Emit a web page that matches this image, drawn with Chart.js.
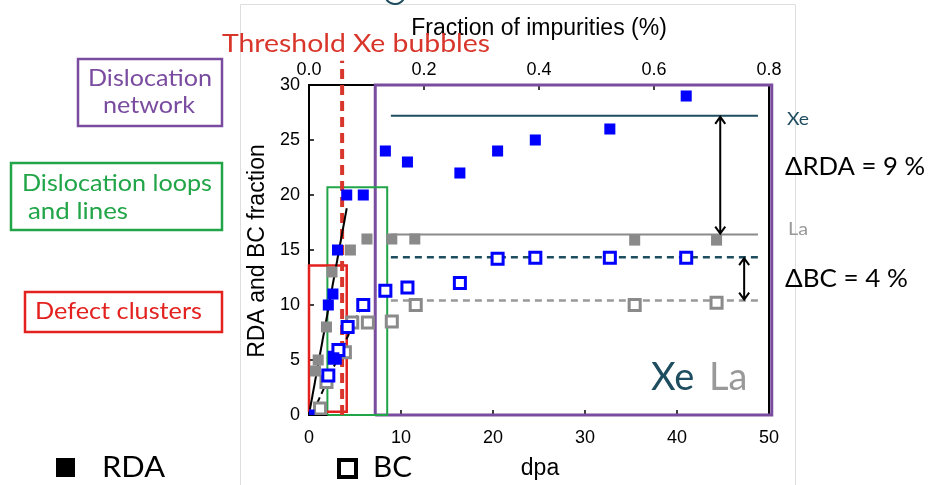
<!DOCTYPE html>
<html>
<head>
<meta charset="utf-8">
<script src="https://cdn.jsdelivr.net/npm/chart.js@4.4.0/dist/chart.umd.min.js"></script>
<style>
  html, body { margin: 0; padding: 0; background: #fff; }
  canvas { display: block; }
</style>
</head>
<body>
<canvas id="chart" width="928" height="485"></canvas>
<script>
// Xe implanted: RDA (filled) and BC (open) vs dpa
const xeRdaDpa = [0, 2.1, 2.6, 2.7, 3.1, 4.1, 5.9, 8.3, 10.7, 16.4, 20.5, 24.6, 32.7, 41];
const xeRda    = [0, 10, 11, 5.2, 15, 20, 20, 24, 23, 22, 24, 25, 26, 29];
const xeBcDpa  = [2.1, 2.8, 3.2, 4.2, 5.9, 8.3, 10.7, 16.4, 20.5, 24.6, 32.7, 41];
const xeBc     = [3.6, 5.2, 5.9, 8, 10, 11.3, 11.6, 12, 14.2, 14.3, 14.3, 14.3];
// La implanted
const laRdaDpa = [0.7, 1.0, 1.9, 2.5, 4.5, 6.3, 9, 11.5, 35.4, 44.3];
const laRda    = [4, 5, 8, 13, 15, 16, 16, 16, 15.9, 15.9];
const laBcDpa  = [1.2, 1.9, 3.9, 4.7, 6.4, 9, 11.6, 35.4, 44.3];
const laBc     = [0.6, 3, 5.7, 8.4, 8.4, 8.5, 10, 10, 10.2];

// saturation levels: [xStart, xEnd, level]
const xeRdaLevel = [8.9, 48.8, 27.2];
const laRdaLevel = [8.9, 48.8, 16.4];
const xeBcLevel  = [8.9, 48.8, 14.35];
const laBcLevel  = [8.9, 48.8, 10.4];

// guide lines through the first points
const rdaFit = [[0.1, 0.5], [4.1, 18.8]];
const bcFit  = [[0.9, 1.1], [5.5, 9.5]];

// threshold for Xe bubbles (dpa) and how far up it runs
const thresholdDpa = 3.6;
const thresholdTop = 32.2;

// regimes: [xmin, xmax, ymin, ymax]
const defectBox  = [0, 4.1, 0.3, 13.6];
const loopsBox   = [2, 8.5, 0, 20.7];
const networkBox = [7.2, 50.3, 0, 30];

// difference arrows: [dpa, yFrom, yTo]
const rdaArrow = [44.7, 27.2, 16.4];
const bcArrow  = [47.3, 14.35, 10.4];

const dpaTicks = [0, 10, 20, 30, 40, 50];
const fracTicks = [0, 0.2, 0.4, 0.6, 0.8];

const BLUE = '#0000ff';
const GRAY = '#8a8a8a';
const TEAL = '#1d4d5e';
const PURPLE = '#7a4c9f';
const GREEN = '#21a548';
const RED = '#e3211e';
const THRESH = '#d9362b';
const AX_FONT = 'Liberation Sans, Arial, sans-serif';
const ANN_FONT = 'Lato, sans-serif';

const pts = (xs, ys) => xs.map((x, i) => ({ x: x, y: ys[i] }));
const level = l => [{ x: l[0], y: l[2] }, { x: l[1], y: l[2] }];
const rect = b => [
  { x: b[0], y: b[2] }, { x: b[1], y: b[2] }, { x: b[1], y: b[3] },
  { x: b[0], y: b[3] }, { x: b[0], y: b[2] }
];

function lineSet(data, color, width, dash, order) {
  return {
    data: data,
    showLine: true,
    borderColor: color,
    borderWidth: width,
    borderDash: dash || [],
    pointRadius: 0,
    pointHoverRadius: 0,
    fill: false,
    tension: 0,
    clip: false,
    order: order
  };
}

function pointSet(data, fill, stroke, bw, order) {
  return {
    data: data,
    pointStyle: 'rect',
    pointRadius: 7.8,
    pointHoverRadius: 7.8,
    backgroundColor: fill,
    borderColor: stroke,
    borderWidth: bw,
    order: order
  };
}

const datasets = [
  pointSet(pts(xeRdaDpa, xeRda), BLUE, BLUE, 0, 0),
  pointSet(pts(xeBcDpa, xeBc), '#ffffff', BLUE, 3, 1),
  pointSet(pts(laRdaDpa, laRda), GRAY, GRAY, 0, 2),
  pointSet(pts(laBcDpa, laBc), '#ffffff', GRAY, 3, 3),
  lineSet(rdaFit.map(p => ({ x: p[0], y: p[1] })), '#000', 2, [], 4),
  lineSet(bcFit.map(p => ({ x: p[0], y: p[1] })), '#000', 2, [6, 4], 4),
  lineSet([{ x: thresholdDpa, y: 0 }, { x: thresholdDpa, y: thresholdTop }], THRESH, 4, [10, 6], 5),
  lineSet(rect(defectBox), RED, 2.5, [], 6),
  lineSet(rect(loopsBox), GREEN, 2, [], 6),
  lineSet(rect(networkBox), PURPLE, 3, [], 6),
  lineSet(level(xeRdaLevel), TEAL, 2, [], 7),
  lineSet(level(laRdaLevel), GRAY, 2, [], 7),
  lineSet(level(xeBcLevel), TEAL, 2.5, [7, 5], 7),
  lineSet(level(laBcLevel), '#999999', 2.5, [7, 5], 7)
];

function text(ctx, str, x, y, font, color, align) {
  ctx.font = font;
  ctx.fillStyle = color;
  ctx.textAlign = align || 'left';
  ctx.textBaseline = 'middle';
  ctx.fillText(str, x, y);
}

// draw text stretched to span x0..x1 (the slide font is wider than anything installed)
function spanText(ctx, str, x0, x1, y, size, color) {
  ctx.font = size + 'px ' + ANN_FONT;
  const w = ctx.measureText(str).width;
  ctx.save();
  ctx.translate(x0, y);
  ctx.scale((x1 - x0) / w, 1);
  ctx.fillStyle = color;
  ctx.textAlign = 'left';
  ctx.textBaseline = 'middle';
  ctx.fillText(str, 0, 0);
  ctx.restore();
}

const frame = {
  id: 'frame',
  beforeDatasetsDraw(chart) {
    const ctx = chart.ctx, a = chart.chartArea;
    const sx = chart.scales.x, sy = chart.scales.y, st = chart.scales.x2;
    ctx.save();
    // pasted-image border
    ctx.strokeStyle = '#dedede';
    ctx.lineWidth = 1;
    ctx.beginPath();
    ctx.moveTo(240.5, 485); ctx.lineTo(240.5, 4.5); ctx.lineTo(795.5, 4.5); ctx.lineTo(795.5, 485);
    ctx.stroke();
    ctx.strokeStyle = TEAL;
    ctx.lineWidth = 2;
    ctx.beginPath();
    ctx.arc(395, -6, 10, 0.2, Math.PI - 0.2);
    ctx.stroke();
    // plot frame
    ctx.strokeStyle = '#000';
    ctx.lineWidth = 2;
    ctx.strokeRect(a.left, a.top, a.right - a.left, a.bottom - a.top);
    // inner ticks
    ctx.lineWidth = 1.5;
    ctx.beginPath();
    dpaTicks.slice(1, -1).forEach(v => {
      const px = sx.getPixelForValue(v);
      ctx.moveTo(px, a.bottom); ctx.lineTo(px, a.bottom - 5);
    });
    fracTicks.slice(1, -1).forEach(v => {
      const px = st.getPixelForValue(v);
      ctx.moveTo(px, a.top); ctx.lineTo(px, a.top + 5);
    });
    sy.ticks.forEach(t => {
      if (t.value <= 0 || t.value >= 30) return;
      const py = sy.getPixelForValue(t.value);
      ctx.moveTo(a.left, py); ctx.lineTo(a.left + 5, py);
    });
    ctx.stroke();
    ctx.restore();
  },
  afterDatasetsDraw(chart) {
    const ctx = chart.ctx;
    const sx = chart.scales.x, sy = chart.scales.y;
    ctx.save();
    ctx.strokeStyle = '#000';
    ctx.lineWidth = 2;
    [rdaArrow, bcArrow].forEach(ar => {
      const x = sx.getPixelForValue(ar[0]);
      const y1 = sy.getPixelForValue(ar[1]);
      const y2 = sy.getPixelForValue(ar[2]);
      ctx.beginPath();
      ctx.moveTo(x, y1 + 1); ctx.lineTo(x, y2 - 1);
      ctx.moveTo(x - 5, y1 + 8); ctx.lineTo(x, y1 + 1); ctx.lineTo(x + 5, y1 + 8);
      ctx.moveTo(x - 5, y2 - 8); ctx.lineTo(x, y2 - 1); ctx.lineTo(x + 5, y2 - 8);
      ctx.stroke();
    });
    ctx.restore();
  },
  afterDraw(chart) {
    const ctx = chart.ctx;
    ctx.save();
    // axis titles
    text(ctx, 'Fraction of impurities (%)', 539, 29, '23px ' + AX_FONT, '#000', 'center');
    text(ctx, 'dpa', 540, 469, '23px ' + AX_FONT, '#000', 'center');
    ctx.save();
    ctx.translate(258, 251);
    ctx.rotate(-Math.PI / 2);
    text(ctx, 'RDA and BC fraction', 0, 0, '23px ' + AX_FONT, '#000', 'center');
    ctx.restore();
    spanText(ctx, 'Threshold Xe bubbles', 222, 490, 44, 25, THRESH);

    // regime labels
    ctx.lineWidth = 2.5;
    ctx.strokeStyle = PURPLE;
    ctx.strokeRect(78, 59, 144, 67);
    spanText(ctx, 'Dislocation', 88, 212, 79, 23, PURPLE);
    spanText(ctx, 'network', 103, 195, 106, 23, PURPLE);
    ctx.strokeStyle = GREEN;
    ctx.strokeRect(11, 163, 211, 67);
    spanText(ctx, 'Dislocation loops', 22, 212, 184, 23, GREEN);
    spanText(ctx, 'and lines', 28, 128, 212, 23, GREEN);
    ctx.strokeStyle = RED;
    ctx.strokeRect(25, 292, 197, 40);
    spanText(ctx, 'Defect clusters', 35, 202, 312, 23, RED);

    // element tags
    text(ctx, 'Xe', 651, 378, '38px ' + ANN_FONT, TEAL);
    text(ctx, 'La', 709, 378, '38px ' + ANN_FONT, '#999999');
    spanText(ctx, 'Xe', 787, 809, 119, 18, TEAL);
    spanText(ctx, 'La', 788, 808, 229, 18, '#999999');
    spanText(ctx, '\u0394RDA = 9 %', 785, 925, 167, 25, '#000');
    spanText(ctx, '\u0394BC = 4 %', 785, 908, 279, 25, '#000');

    // symbol key
    ctx.fillStyle = '#000';
    ctx.fillRect(56, 458, 19, 19);
    spanText(ctx, 'RDA', 102, 165, 468, 28, '#000');
    ctx.strokeStyle = '#000';
    ctx.lineWidth = 4;
    ctx.strokeRect(339, 460, 17, 17);
    spanText(ctx, 'BC', 373, 412, 468, 28, '#000');
    ctx.restore();
  }
};

new Chart(document.getElementById('chart'), {
  type: 'scatter',
  data: { datasets: datasets },
  plugins: [frame],
  options: {
    responsive: false,
    animation: false,
    layout: { padding: { left: 259, right: 159, top: 55, bottom: 40 } },
    plugins: { legend: { display: false }, tooltip: { enabled: false } },
    scales: {
      x: {
        type: 'linear', position: 'bottom', min: 0, max: 50,
        afterBuildTicks: s => { s.ticks = dpaTicks.map(v => ({ value: v })); },
        ticks: { color: '#000', font: { size: 18, family: AX_FONT }, padding: 12, maxRotation: 0 },
        grid: { display: false, drawTicks: false },
        border: { display: false },
        afterFit: s => { s.height = 30; }
      },
      x2: {
        type: 'linear', position: 'top', min: 0, max: 0.8,
        afterBuildTicks: s => { s.ticks = fracTicks.map(v => ({ value: v })); },
        ticks: { color: '#000', font: { size: 18, family: AX_FONT }, padding: 4, maxRotation: 0,
                 callback: v => v.toFixed(1) },
        grid: { display: false, drawTicks: false },
        border: { display: false },
        afterFit: s => { s.height = 30; }
      },
      y: {
        type: 'linear', min: 0, max: 30,
        ticks: { stepSize: 5, color: '#000', font: { size: 18, family: AX_FONT }, padding: 9 },
        grid: { display: false, drawTicks: false },
        border: { display: false },
        afterFit: s => { s.width = 50; }
      }
    }
  }
});
</script>
</body>
</html>
